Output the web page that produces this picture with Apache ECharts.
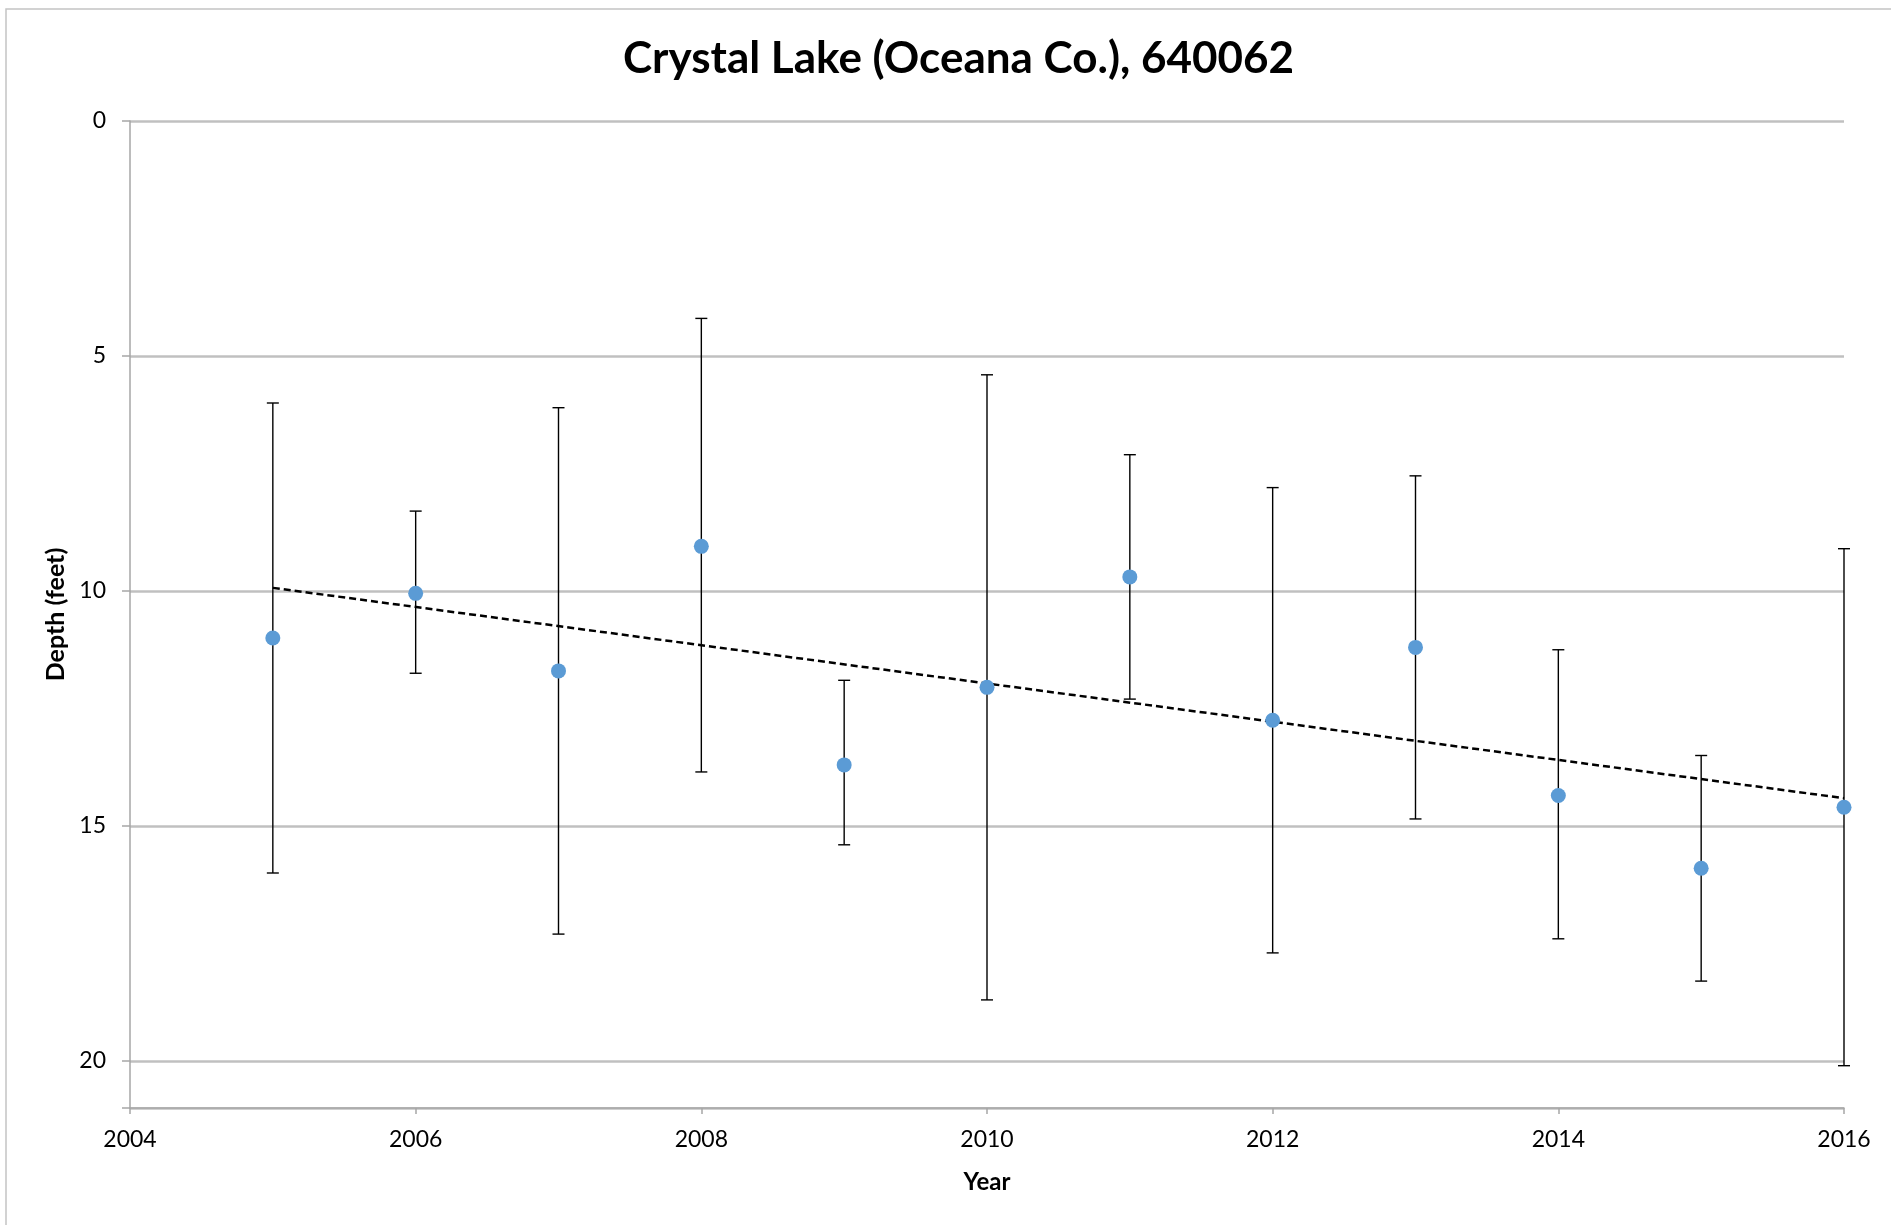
<!DOCTYPE html>
<html style="height: 100%;">
<head>
    <meta charset="utf-8">
    <script type="text/javascript" src="https://cdn.jsdelivr.net/npm/echarts@6/dist/echarts.min.js"></script>
</head>
<body style="height: 100%; margin: 0; background-color: #fff;">
    <div id="container" style="width: 1891px; height: 1225px;"></div>
    <script type="text/javascript">
// Secchi depth by year, with min/max range shown as error bars
var years = [2005, 2006, 2007, 2008, 2009, 2010, 2011, 2012, 2013, 2014, 2015, 2016];
var depthMean = [11.0, 10.05, 11.7, 9.05, 13.7, 12.05, 9.7, 12.75, 11.2, 14.35, 15.9, 14.6];
var depthLow = [6.0, 8.3, 6.1, 4.2, 11.9, 5.4, 7.1, 7.8, 7.55, 11.25, 13.5, 9.1];
var depthHigh = [16.0, 11.75, 17.3, 13.85, 15.4, 18.7, 12.3, 17.7, 14.85, 17.4, 18.3, 20.1];

// linear trendline (least squares on the yearly means), as Excel draws it
function trend() {
    var n = years.length, sx = 0, sy = 0, sxx = 0, sxy = 0;
    for (var i = 0; i < n; i++) {
        sx += years[i]; sy += depthMean[i];
        sxx += years[i] * years[i]; sxy += years[i] * depthMean[i];
    }
    var b = (n * sxy - sx * sy) / (n * sxx - sx * sx);
    var a = (sy - b * sx) / n;
    var x0 = years[0], x1 = years[n - 1];
    return [[x0, a + b * x0], [x1, a + b * x1]];
}

var font = 'Lato, "Open Sans", sans-serif';
var dom = document.getElementById("container");
var myChart = echarts.init(dom);

var option = {
    animation: false,
    backgroundColor: '#fff',
    title: {
        text: 'Crystal Lake (Oceana Co.), 640062',
        left: 618,
        top: 32,
        textStyle: { fontFamily: font, fontSize: 44, fontWeight: 'bold', color: '#000' }
    },
    graphic: [{
        type: 'rect',
        shape: { x: 6, y: 9, width: 1950, height: 1300 },
        style: { fill: 'none', stroke: '#C4C4C4', lineWidth: 1.5 },
        silent: true
    }],
    grid: { left: 130, right: 47, top: 121, bottom: 117 },
    xAxis: {
        type: 'value',
        min: 2004, max: 2016, interval: 2,
        name: 'Year',
        nameLocation: 'middle',
        nameGap: 62,
        nameTextStyle: { fontFamily: font, fontSize: 24, fontWeight: 'bold', color: '#000' },
        axisLine: { onZero: false, lineStyle: { color: '#A6A6A6', width: 1.5 } },
        axisTick: { show: true, length: 6, lineStyle: { color: '#A6A6A6', width: 1.5 } },
        axisLabel: {
            fontFamily: font, fontSize: 23, color: '#000', margin: 20,
            formatter: function (v) { return String(v); }
        },
        splitLine: { show: false }
    },
    yAxis: {
        type: 'value',
        inverse: true,
        min: 0, max: 21, interval: 5,
        name: 'Depth (feet)',
        nameLocation: 'middle',
        nameGap: 61,
        nameTextStyle: { fontFamily: font, fontSize: 25, fontWeight: 'bold', color: '#000' },
        axisLine: { show: true, lineStyle: { color: '#A6A6A6', width: 1.5 } },
        axisTick: { show: true, length: 8, lineStyle: { color: '#A6A6A6', width: 1.5 } },
        axisLabel: {
            fontFamily: font, fontSize: 23, color: '#000', margin: 24,
            formatter: function (v) { return v % 5 === 0 ? String(v) : ''; }
        },
        splitLine: { show: true, lineStyle: { color: '#C0C0C0', width: 2.5 } }
    },
    series: [
        {
            type: 'custom',
            name: 'range',
            data: years.map(function (y, i) { return [y, depthLow[i], depthHigh[i]]; }),
            renderItem: function (params, api) {
                var top = api.coord([api.value(0), api.value(1)]);
                var bot = api.coord([api.value(0), api.value(2)]);
                var cap = 6;
                var st = { stroke: '#000', lineWidth: 1.4 };
                return {
                    type: 'group',
                    children: [
                        { type: 'line', shape: { x1: top[0], y1: top[1], x2: bot[0], y2: bot[1] }, style: st },
                        { type: 'line', shape: { x1: top[0] - cap, y1: top[1], x2: top[0] + cap, y2: top[1] }, style: st },
                        { type: 'line', shape: { x1: bot[0] - cap, y1: bot[1], x2: bot[0] + cap, y2: bot[1] }, style: st }
                    ]
                };
            },
            z: 2
        },
        {
            type: 'line',
            name: 'trend',
            data: trend(),
            showSymbol: false,
            symbol: 'none',
            lineStyle: { color: '#000', width: 2.5, type: [7, 4] },
            z: 3
        },
        {
            type: 'scatter',
            name: 'depth',
            data: years.map(function (y, i) { return [y, depthMean[i]]; }),
            symbolSize: 15,
            itemStyle: { color: '#5B9BD5', opacity: 1 },
            z: 4
        }
    ]
};

myChart.setOption(option, true);
    </script>
</body>
</html>
